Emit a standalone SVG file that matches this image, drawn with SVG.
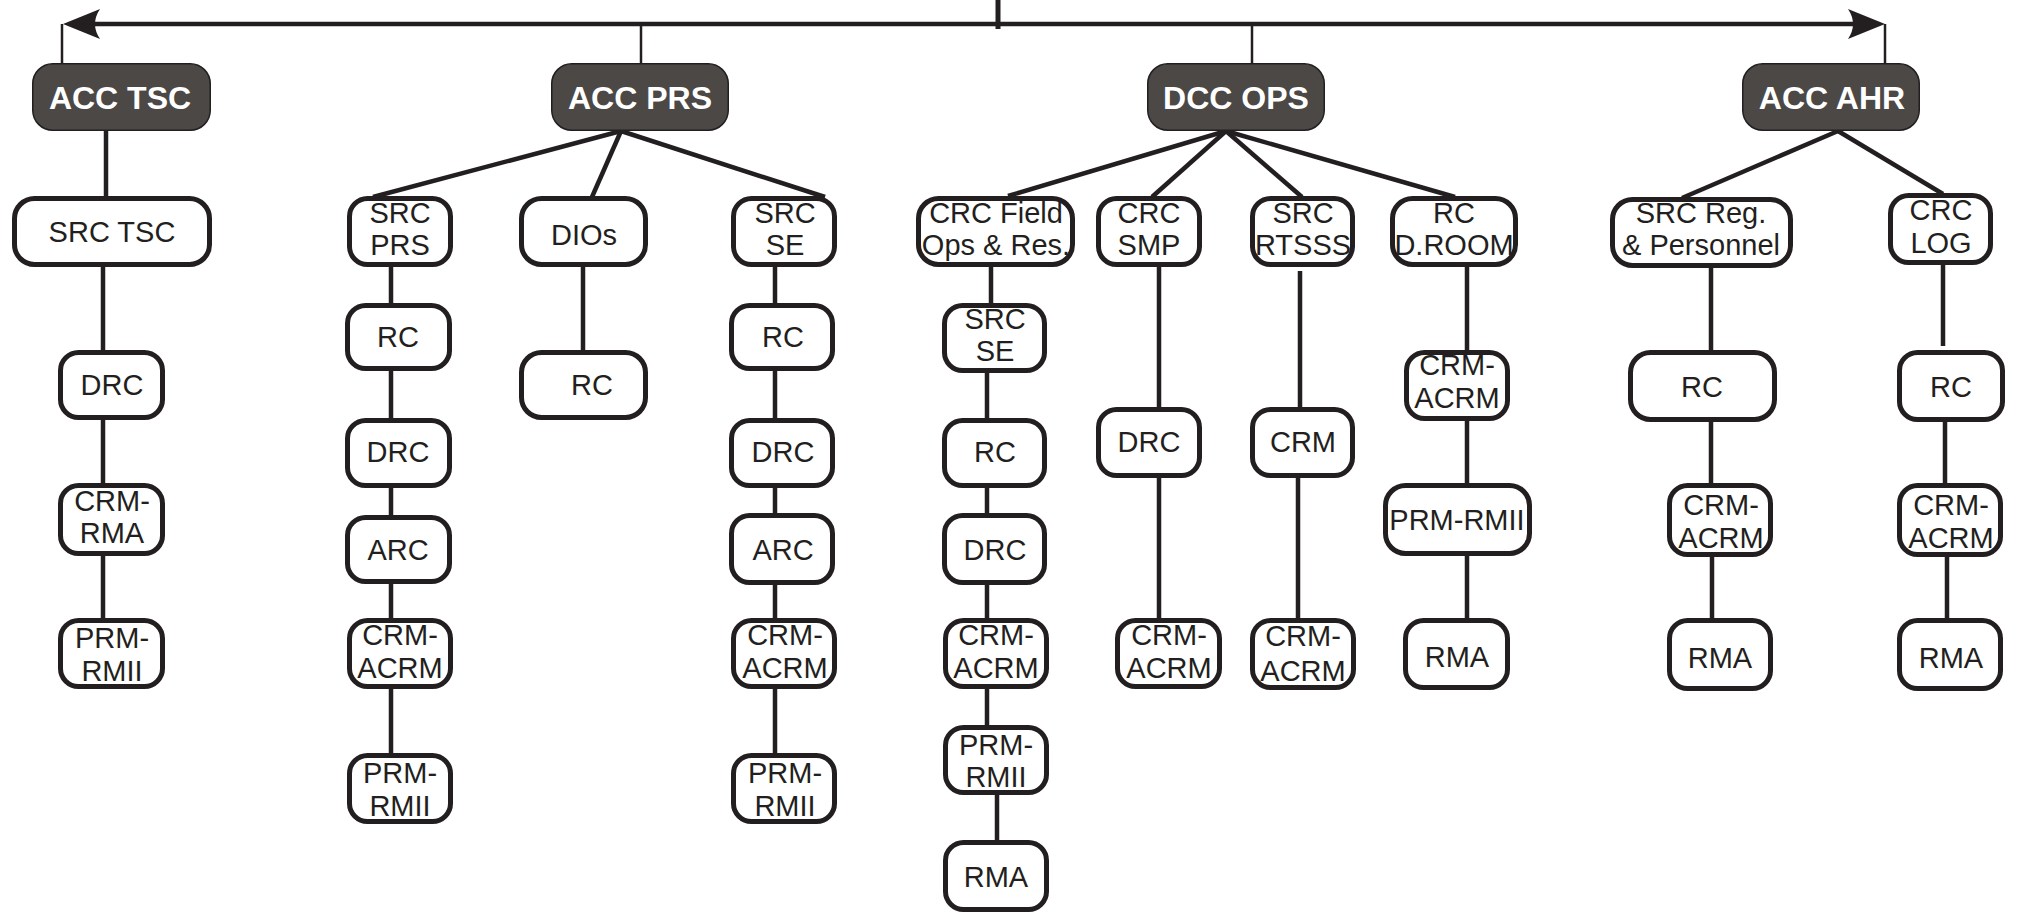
<svg xmlns="http://www.w3.org/2000/svg" width="2022" height="918" viewBox="0 0 2022 918">
<style>
.hd rect{fill:#4b4846;stroke:#231f20;stroke-width:1.5}
.hd text{font-family:"Liberation Sans",Arial,sans-serif;font-weight:bold;font-size:32px;fill:#ffffff;text-anchor:middle}
.nd rect{fill:#ffffff;stroke:#231f20;stroke-width:5}
.nd text{font-family:"Liberation Sans",Arial,sans-serif;font-size:29px;fill:#231f20;text-anchor:middle}
.c line{stroke:#231f20;stroke-width:4.5;fill:none}
.c line.thin{stroke-width:2.5}
.c line.bar{stroke-width:4.5}
</style>
<defs>
<marker id="ah" markerUnits="userSpaceOnUse" viewBox="0 0 40 32" markerWidth="40" markerHeight="32" refX="30" refY="16" orient="auto-start-reverse">
<path d="M40,16 L3,1 Q13,16 3,31 Z" fill="#231f20"/>
</marker>
</defs>
<g id="connectors" class="c">
<line class="bar" x1="73" y1="24" x2="1875" y2="24" marker-start="url(#ah)" marker-end="url(#ah)"/>
<line x1="998" y1="0" x2="998" y2="29" style="stroke-width:5"/>
<line class="thin" x1="62" y1="24" x2="62" y2="64"/>
<line class="thin" x1="641" y1="24" x2="641" y2="64"/>
<line class="thin" x1="1252" y1="24" x2="1252" y2="64"/>
<line class="thin" x1="1885" y1="24" x2="1885" y2="64"/>
<line x1="106" y1="131" x2="106" y2="198"/>
<line x1="103" y1="267" x2="103" y2="352"/>
<line x1="103" y1="420" x2="103" y2="485"/>
<line x1="103" y1="556" x2="103" y2="620"/>
<line x1="621" y1="131" x2="373" y2="197"/>
<line x1="621" y1="131" x2="592" y2="197"/>
<line x1="621" y1="131" x2="825" y2="197"/>
<line x1="391" y1="267" x2="391" y2="306"/>
<line x1="391" y1="371" x2="391" y2="420"/>
<line x1="391" y1="488" x2="391" y2="517"/>
<line x1="391" y1="584" x2="391" y2="620"/>
<line x1="391" y1="689" x2="391" y2="755"/>
<line x1="583" y1="267" x2="583" y2="352"/>
<line x1="775" y1="267" x2="775" y2="308"/>
<line x1="775" y1="371" x2="775" y2="420"/>
<line x1="775" y1="488" x2="775" y2="515"/>
<line x1="775" y1="585" x2="775" y2="620"/>
<line x1="775" y1="689" x2="775" y2="755"/>
<line x1="1226" y1="131" x2="1008" y2="196"/>
<line x1="1226" y1="131" x2="1152" y2="197"/>
<line x1="1226" y1="131" x2="1302" y2="197"/>
<line x1="1226" y1="131" x2="1455" y2="197"/>
<line x1="991" y1="267" x2="991" y2="305"/>
<line x1="987" y1="373" x2="987" y2="420"/>
<line x1="987" y1="488" x2="987" y2="515"/>
<line x1="987" y1="585" x2="987" y2="620"/>
<line x1="987" y1="689" x2="987" y2="727"/>
<line x1="997" y1="795" x2="997" y2="842"/>
<line x1="1159" y1="267" x2="1159" y2="409"/>
<line x1="1159" y1="478" x2="1159" y2="620"/>
<line x1="1300" y1="271" x2="1300" y2="409"/>
<line x1="1298" y1="478" x2="1298" y2="620"/>
<line x1="1467" y1="267" x2="1467" y2="352"/>
<line x1="1467" y1="421" x2="1467" y2="485"/>
<line x1="1467" y1="556" x2="1467" y2="620"/>
<line x1="1838" y1="131" x2="1682" y2="198"/>
<line x1="1838" y1="131" x2="1943" y2="194"/>
<line x1="1711" y1="268" x2="1711" y2="352"/>
<line x1="1711" y1="422" x2="1711" y2="485"/>
<line x1="1712" y1="557" x2="1712" y2="620"/>
<line x1="1943" y1="265" x2="1943" y2="346"/>
<line x1="1945" y1="422" x2="1945" y2="485"/>
<line x1="1947" y1="557" x2="1947" y2="620"/>
</g>
<g id="acc-tsc" class="hd"><rect x="32.75" y="63.75" width="177.5" height="66.5" rx="20"/><text x="120" y="109">ACC TSC</text></g>
<g id="acc-prs" class="hd"><rect x="551.75" y="63.75" width="176.5" height="66.5" rx="20"/><text x="640" y="109">ACC PRS</text></g>
<g id="dcc-ops" class="hd"><rect x="1147.75" y="63.75" width="176.5" height="66.5" rx="20"/><text x="1236" y="109">DCC OPS</text></g>
<g id="acc-ahr" class="hd"><rect x="1742.75" y="63.75" width="176.5" height="66.5" rx="20"/><text x="1832" y="109">ACC AHR</text></g>

<g id="src-tsc" class="nd"><rect x="14.5" y="198.5" width="195" height="66" rx="20"/><text x="112" y="242">SRC TSC</text></g>
<g id="tsc-drc" class="nd"><rect x="60.5" y="352.5" width="102" height="65" rx="18"/><text x="112" y="395">DRC</text></g>
<g id="tsc-crm-rma" class="nd"><rect x="60.5" y="485.5" width="102" height="68" rx="18"/><text x="112" y="511">CRM-</text><text x="112" y="543">RMA</text></g>
<g id="tsc-prm-rmii" class="nd"><rect x="60.5" y="620.5" width="102" height="66" rx="18"/><text x="112" y="648">PRM-</text><text x="112" y="681">RMII</text></g>

<g id="src-prs" class="nd"><rect x="349.5" y="198.5" width="101" height="66" rx="18"/><text x="400" y="223">SRC</text><text x="400" y="255">PRS</text></g>
<g id="prs-rc" class="nd"><rect x="347.5" y="305.5" width="102" height="63" rx="18"/><text x="398" y="347">RC</text></g>
<g id="prs-drc" class="nd"><rect x="347.5" y="420.5" width="102" height="65" rx="18"/><text x="398" y="462">DRC</text></g>
<g id="prs-arc" class="nd"><rect x="347.5" y="517.5" width="102" height="64" rx="18"/><text x="398" y="560">ARC</text></g>
<g id="prs-crm-acrm" class="nd"><rect x="349.5" y="620.5" width="101" height="66" rx="18"/><text x="400" y="645">CRM-</text><text x="400" y="678">ACRM</text></g>
<g id="prs-prm-rmii" class="nd"><rect x="349.5" y="755.5" width="101" height="66" rx="18"/><text x="400" y="783">PRM-</text><text x="400" y="816">RMII</text></g>

<g id="dios" class="nd"><rect x="521.5" y="198.5" width="124" height="66" rx="20"/><text x="584" y="245">DIOs</text></g>
<g id="dios-rc" class="nd"><rect x="521.5" y="352.5" width="124" height="65" rx="20"/><text x="592" y="395">RC</text></g>

<g id="src-se" class="nd"><rect x="733.5" y="198.5" width="101" height="66" rx="18"/><text x="785" y="223">SRC</text><text x="785" y="255">SE</text></g>
<g id="se-rc" class="nd"><rect x="731.5" y="305.5" width="101" height="63" rx="18"/><text x="783" y="347">RC</text></g>
<g id="se-drc" class="nd"><rect x="731.5" y="420.5" width="101" height="65" rx="18"/><text x="783" y="462">DRC</text></g>
<g id="se-arc" class="nd"><rect x="731.5" y="515.5" width="101" height="67" rx="18"/><text x="783" y="560">ARC</text></g>
<g id="se-crm-acrm" class="nd"><rect x="733.5" y="620.5" width="101" height="66" rx="18"/><text x="785" y="645">CRM-</text><text x="785" y="678">ACRM</text></g>
<g id="se-prm-rmii" class="nd"><rect x="733.5" y="755.5" width="101" height="66" rx="18"/><text x="785" y="783">PRM-</text><text x="785" y="816">RMII</text></g>

<g id="crc-field" class="nd"><rect x="918.5" y="198.5" width="154" height="66" rx="20"/><text x="996" y="223">CRC Field</text><text x="996" y="255">Ops &amp; Res.</text></g>
<g id="ops-src-se" class="nd"><rect x="944.5" y="305.5" width="100" height="65" rx="18"/><text x="995" y="329">SRC</text><text x="995" y="361">SE</text></g>
<g id="ops-rc" class="nd"><rect x="944.5" y="420.5" width="100" height="65" rx="18"/><text x="995" y="462">RC</text></g>
<g id="ops-drc" class="nd"><rect x="944.5" y="515.5" width="100" height="67" rx="18"/><text x="995" y="560">DRC</text></g>
<g id="ops-crm-acrm" class="nd"><rect x="945.5" y="620.5" width="101" height="66" rx="18"/><text x="996" y="645">CRM-</text><text x="996" y="678">ACRM</text></g>
<g id="ops-prm-rmii" class="nd"><rect x="945.5" y="727.5" width="101" height="65" rx="18"/><text x="996" y="755">PRM-</text><text x="996" y="787">RMII</text></g>
<g id="ops-rma" class="nd"><rect x="945.5" y="842.5" width="101" height="67" rx="18"/><text x="996" y="887">RMA</text></g>

<g id="crc-smp" class="nd"><rect x="1098.5" y="198.5" width="101" height="66" rx="18"/><text x="1149" y="223">CRC</text><text x="1149" y="255">SMP</text></g>
<g id="smp-drc" class="nd"><rect x="1098.5" y="409.5" width="101" height="66" rx="18"/><text x="1149" y="452">DRC</text></g>
<g id="smp-crm-acrm" class="nd"><rect x="1117.5" y="620.5" width="102" height="66" rx="18"/><text x="1169" y="645">CRM-</text><text x="1169" y="678">ACRM</text></g>

<g id="src-rtsss" class="nd"><rect x="1252.5" y="198.5" width="100" height="66" rx="18"/><text x="1303" y="223">SRC</text><text x="1303" y="255">RTSSS</text></g>
<g id="rtsss-crm" class="nd"><rect x="1252.5" y="409.5" width="100" height="66" rx="18"/><text x="1303" y="452">CRM</text></g>
<g id="rtsss-crm-acrm" class="nd"><rect x="1252.5" y="620.5" width="101" height="67" rx="18"/><text x="1303" y="646">CRM-</text><text x="1303" y="681">ACRM</text></g>

<g id="rc-droom" class="nd"><rect x="1392.5" y="198.5" width="123" height="66" rx="20"/><text x="1454" y="223">RC</text><text x="1454" y="255">D.ROOM</text></g>
<g id="droom-crm-acrm" class="nd"><rect x="1406.5" y="352.5" width="101" height="66" rx="18"/><text x="1457" y="375">CRM-</text><text x="1457" y="408">ACRM</text></g>
<g id="droom-prm-rmii" class="nd"><rect x="1385.5" y="485.5" width="144" height="68" rx="20"/><text x="1457" y="530">PRM-RMII</text></g>
<g id="droom-rma" class="nd"><rect x="1405.5" y="620.5" width="102" height="67" rx="18"/><text x="1457" y="667">RMA</text></g>

<g id="src-reg" class="nd"><rect x="1612.5" y="199.5" width="178" height="66" rx="20"/><text x="1701" y="223">SRC Reg.</text><text x="1701" y="255">&amp; Personnel</text></g>
<g id="reg-rc" class="nd"><rect x="1630.5" y="352.5" width="144" height="67" rx="20"/><text x="1702" y="397">RC</text></g>
<g id="reg-crm-acrm" class="nd"><rect x="1669.5" y="485.5" width="101" height="69" rx="18"/><text x="1721" y="515">CRM-</text><text x="1721" y="548">ACRM</text></g>
<g id="reg-rma" class="nd"><rect x="1669.5" y="620.5" width="101" height="68" rx="18"/><text x="1720" y="668">RMA</text></g>

<g id="crc-log" class="nd"><rect x="1890.5" y="195.5" width="100" height="67" rx="18"/><text x="1941" y="220">CRC</text><text x="1941" y="253">LOG</text></g>
<g id="log-rc" class="nd"><rect x="1899.5" y="352.5" width="103" height="67" rx="18"/><text x="1951" y="397">RC</text></g>
<g id="log-crm-acrm" class="nd"><rect x="1899.5" y="485.5" width="101" height="69" rx="18"/><text x="1951" y="515">CRM-</text><text x="1951" y="548">ACRM</text></g>
<g id="log-rma" class="nd"><rect x="1899.5" y="620.5" width="101" height="68" rx="18"/><text x="1951" y="668">RMA</text></g>
</svg>
